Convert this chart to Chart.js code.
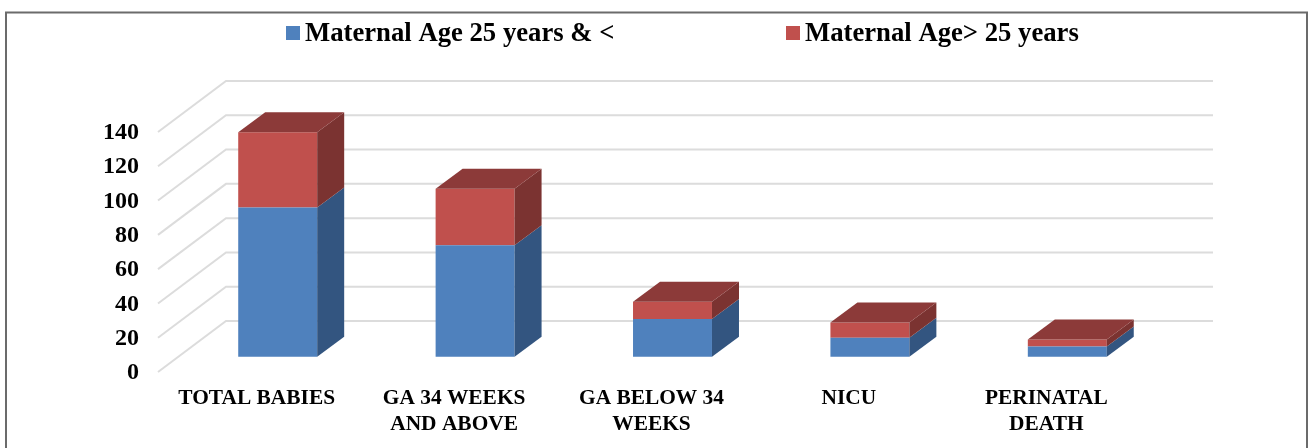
<!DOCTYPE html>
<html><head><meta charset="utf-8">
<script src="https://cdn.jsdelivr.net/npm/chart.js@4"></script>
<style>html,body{margin:0;padding:0;background:#fff}canvas{display:block}</style>
</head><body><canvas id="c" width="1309" height="448"></canvas>
<script>
const categories = [["TOTAL BABIES"],["GA 34 WEEKS","AND ABOVE"],["GA BELOW 34","WEEKS"],["NICU"],["PERINATAL","DEATH"]];
const seriesNames = ["Maternal Age 25 years & <","Maternal Age> 25 years"];
const youngerMothers = [87,65,22,11,6];
const olderMothers = [44,33,10,9,4];
const FONT = '"Liberation Serif","Times New Roman",serif';
const wall = {dx:68, dy:-51};
const barShift = {dx:21, dy:-15.3};
const barDepth = {dx:27, dy:-20};
const faces = [
  {front:'#4f81bd', side:'#335580', top:'#3f6797'},
  {front:'#c0504d', side:'#7b3331', top:'#8c3a39'}
];
const threeD = {
  id:'threeD',
  beforeDraw(chart){
    const c=chart.ctx;
    c.save();
    c.fillStyle='#fff';c.fillRect(0,0,chart.width,chart.height);
    c.strokeStyle='#6b6b6b';c.lineWidth=2;
    c.beginPath();c.moveTo(6,448);c.lineTo(6,12.5);c.lineTo(1307,12.5);c.lineTo(1307,448);c.stroke();
    c.restore();
  },
  beforeDatasetsDraw(chart){
    const c=chart.ctx,y=chart.scales.y,a=chart.chartArea;
    c.save();
    c.strokeStyle='#dcdcdc';c.lineWidth=2;
    y.ticks.forEach(t=>{
      const p=y.getPixelForValue(t.value);
      c.beginPath();
      c.moveTo(a.left,p);
      c.lineTo(a.left+wall.dx,p+wall.dy);
      c.lineTo(a.right+wall.dx,p+wall.dy);
      c.stroke();
    });
    c.restore();
    c.save();
    c.translate(barShift.dx,barShift.dy);
  },
  afterDatasetsDraw(chart){
    const c=chart.ctx;
    const poly=(pts,col)=>{c.fillStyle=col;c.beginPath();pts.forEach((p,i)=>i?c.lineTo(p[0],p[1]):c.moveTo(p[0],p[1]));c.closePath();c.fill();};
    const n=chart.data.datasets.length;
    chart.data.datasets.forEach((ds,di)=>{
      chart.getDatasetMeta(di).data.forEach(b=>{
        const {x,y,base,width}=b.getProps(['x','y','base','width'],true);
        const R=x+width/2,L=x-width/2,dx=barDepth.dx,dy=barDepth.dy;
        poly([[R,base],[R+dx,base+dy],[R+dx,y+dy],[R,y]],faces[di].side);
        if(di===n-1) poly([[L,y],[L+dx,y+dy],[R+dx,y+dy],[R,y]],faces[di].top);
      });
    });
    c.restore();
  },
  afterDraw(chart){
    const c=chart.ctx;
    const items=[{box:286,text:305},{box:786,text:805}];
    c.save();
    c.font='bold 26.7px '+FONT;c.textBaseline='middle';c.textAlign='left';
    chart.data.datasets.forEach((ds,i)=>{
      c.fillStyle=ds.backgroundColor;c.fillRect(items[i].box,26,14,14);
      c.fillStyle='#000';c.fillText(ds.label,items[i].text,34.5);
    });
    c.restore();
  }
};
new Chart(document.getElementById('c'),{
  type:'bar',
  data:{labels:categories,datasets:[
    {label:seriesNames[0],data:youngerMothers,backgroundColor:faces[0].front,clip:false},
    {label:seriesNames[1],data:olderMothers,backgroundColor:faces[1].front,clip:false}
  ]},
  options:{
    responsive:false,animation:false,
    layout:{padding:{left:0,top:132,right:164,bottom:0}},
    plugins:{legend:{display:false},tooltip:{enabled:false}},
    datasets:{bar:{barPercentage:0.4,categoryPercentage:1}},
    scales:{
      x:{stacked:true,grid:{display:false},border:{display:false},
        afterFit(s){s.height=76;},
        ticks:{color:'#000',maxRotation:0,autoSkip:false,padding:5,font:{family:FONT,size:21.4,weight:'bold',lineHeight:1.215}}},
      y:{stacked:true,min:0,max:140,grid:{display:false},border:{display:false},
        afterFit(s){s.width=158;},
        ticks:{color:'#000',stepSize:20,padding:11,labelOffset:1,font:{family:FONT,size:24,weight:'bold'}}}
    }
  },
  plugins:[threeD]
});
</script></body></html>
